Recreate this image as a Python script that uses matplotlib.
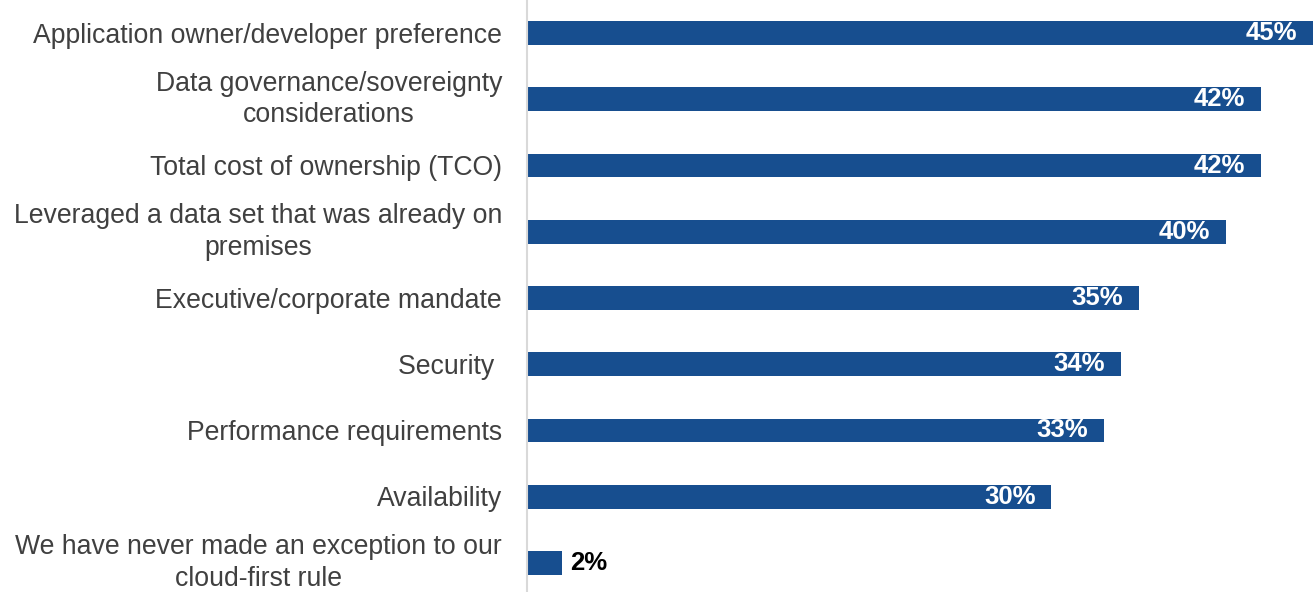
import matplotlib.pyplot as plt

plt.rcParams["font.family"] = ["Liberation Sans", "DejaVu Sans"]

categories = [
    "Application owner/developer preference",
    "Data governance/sovereignty\nconsiderations",
    "Total cost of ownership (TCO)",
    "Leveraged a data set that was already on\npremises",
    "Executive/corporate mandate",
    "Security ",
    "Performance requirements",
    "Availability",
    "We have never made an exception to our\ncloud-first rule",
]
values = [45, 42, 42, 40, 35, 34, 33, 30, 2]

bar_color = "#174e8f"
text_color = "#404040"

fig = plt.figure(figsize=(13.15, 5.92), dpi=100)
ax = fig.add_axes([527 / 1315, 0, 788 / 1315, 1])

pos = list(range(len(categories)))
ax.barh(pos, values, height=0.36, color=bar_color)

ax.set_xlim(0, 45.1)
ax.set_ylim(8.44, -0.5)

for y, v in zip(pos, values):
    if v >= 10:
        ax.text(v - 0.9, y, f"{v}%", ha="right", va="center",
                color="white", fontsize=18.5, fontweight="bold")
    else:
        ax.text(v + 0.45, y, f"{v}%", ha="left", va="center",
                color="black", fontsize=18.5, fontweight="bold")

# category labels to the left of the axis
for y, lab in zip(pos, categories):
    dy = 0 if "\n" in lab else -2
    ax.annotate(lab, xy=(0, y), xycoords=("axes fraction", "data"),
                xytext=(-18, dy), textcoords="offset points",
                ha="right", va="center", multialignment="center",
                fontsize=19.2, color=text_color, linespacing=1.28,
                annotation_clip=False)

ax.set_yticks([])
ax.set_xticks([])

for s in ["top", "right", "bottom"]:
    ax.spines[s].set_visible(False)
ax.spines["left"].set_color("#d9d9d9")
ax.spines["left"].set_linewidth(1.5)

fig.savefig("out.png", dpi=100)
